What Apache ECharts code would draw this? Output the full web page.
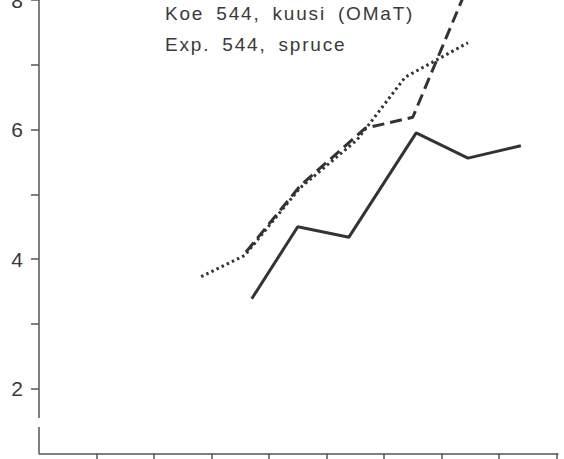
<!DOCTYPE html>
<html><head><meta charset="utf-8">
<script src="https://cdn.jsdelivr.net/npm/echarts@6/dist/echarts.min.js"></script>
<style>
html,body{margin:0;padding:0;background:#fff;}
#c{width:564px;height:459px;}
#c text[style*="19px"]{letter-spacing:1.8px;word-spacing:5px;}
</style></head><body><div id="c"></div>
<script>
// Text
const titleLines = ['Koe 544, kuusi (OMaT)', 'Exp. 544, spruce'];
// Axis ticks / labels
const yTickValues = [2, 3, 4, 5, 6, 7, 8];
const yLabelValues = [2, 4, 6, 8];
const xTickValues = [1, 2, 3, 4, 5, 6, 7, 8, 9];
const yBreak = [1.41, 1.55];
// Series: solid
const solidX = [3.70, 4.50, 5.39, 6.56, 7.46, 8.38];
const solidY = [3.39, 4.50, 4.34, 5.95, 5.56, 5.75];
// Series: dotted
const dottedX = [2.82, 3.58, 4.54, 5.53, 6.37, 7.46];
const dottedY = [3.73, 4.06, 5.10, 5.84, 6.81, 7.34];
// Series: dashed
const dashedX = [3.60, 4.54, 5.67, 6.50, 7.46];
const dashedY = [4.11, 5.13, 6.02, 6.19, 8.22];

const pairs = (xs, ys) => xs.map((x, i) => [x, ys[i]]);
const lineCol = '#333333';
const axisCol = '#555555';
const txtCol = '#3a3a3a';

const chart = echarts.init(document.getElementById('c'), null, {renderer: 'svg'});
chart.setOption({
  animation: false,
  backgroundColor: '#ffffff',
  grid: {left: 39, top: 0, width: 519, height: 453.6, containLabel: false, outerBoundsMode: 'none'},
  xAxis: {
    type: 'value', min: 0, max: 9.026, interval: 1,
    splitLine: {show: false},
    axisLine: {show: true, lineStyle: {color: axisCol, width: 1.5}},
    axisTick: {show: true, customValues: xTickValues, inside: false, length: 8, lineStyle: {color: axisCol, width: 1.5}},
    axisLabel: {show: false}
  },
  yAxis: {
    type: 'value', min: 1, max: 8, interval: 1,
    splitLine: {show: false},
    axisLine: {show: false},
    axisTick: {show: true, customValues: yTickValues, inside: false, length: 8, lineStyle: {color: axisCol, width: 1.5}},
    axisLabel: {show: true, customValues: yLabelValues, margin: 16, color: txtCol,
      fontSize: 21, fontFamily: 'Liberation Sans'}
  },
  graphic: titleLines.map((t, i) => ({
    type: 'text', left: 165, top: 4 + i * 31,
    style: {text: t, fill: txtCol, font: '19px "Liberation Sans"'}
  })),
  series: [
    {
      type: 'line', data: [], clip: false, silent: true,
      markLine: {
        silent: true, symbol: ['none', 'none'], label: {show: false},
        lineStyle: {color: axisCol, width: 1.5, type: 'solid'},
        data: [
          [{coord: [0, 8]}, {coord: [0, yBreak[1]]}],
          [{coord: [0, yBreak[0]]}, {coord: [0, 1]}],
          [{coord: [-0.10, yBreak[1]]}, {coord: [0.05, yBreak[1]]}],
          [{coord: [-0.10, yBreak[0]]}, {coord: [0.05, yBreak[0]]}]
        ]
      }
    },
    {
      type: 'line', data: pairs(solidX, solidY), symbol: 'none',
      lineStyle: {color: lineCol, width: 3, type: 'solid'}
    },
    {
      type: 'line', data: pairs(dottedX, dottedY), symbol: 'none',
      lineStyle: {color: lineCol, width: 3, type: [2.5, 3.2]}
    },
    {
      type: 'line', data: pairs(dashedX, dashedY), symbol: 'none',
      lineStyle: {color: lineCol, width: 3, type: [12, 6]}
    }
  ]
});
</script></body></html>
